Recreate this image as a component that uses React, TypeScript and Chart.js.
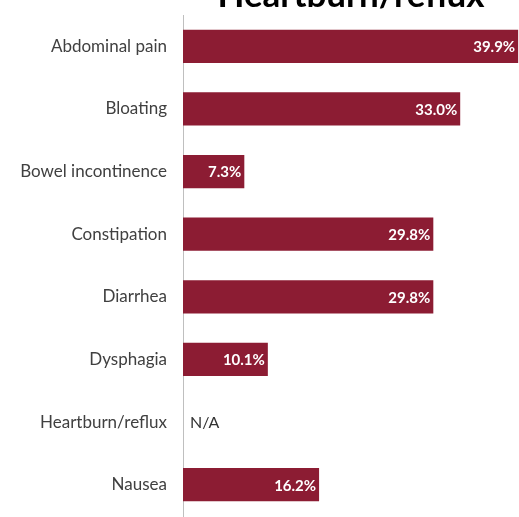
import React, { useEffect, useRef } from "react";
import { Chart, registerables } from "chart.js";

Chart.register(...registerables);

const categories = [
  "Abdominal pain",
  "Bloating",
  "Bowel incontinence",
  "Constipation",
  "Diarrhea",
  "Dysphagia",
  "Heartburn/reflux",
  "Nausea",
];
const values: (number | null)[] = [39.9, 33.0, 7.3, 29.8, 29.8, 10.1, null, 16.2];
const valueLabels = ["39.9%", "33.0%", "7.3%", "29.8%", "29.8%", "10.1%", "N/A", "16.2%"];
const titleText = "Heartburn/reflux";

const FONT = "Lato, 'Open Sans', sans-serif";
const BAR_COLOR = "#8C1C33";
const SHIFT = 25;
const BOTTOM_PAD = 40;
const CANVAS_H = 517 + SHIFT - 1 + BOTTOM_PAD;

const labelPlugin = {
  id: "barLabels",
  afterDatasetsDraw(chart: any) {
    const ctx = chart.ctx;
    const meta = chart.getDatasetMeta(0);
    const xScale = chart.scales.x;
    ctx.save();
    ctx.textBaseline = "middle";
    meta.data.forEach((el: any, i: number) => {
      const v = values[i];
      if (v === null) {
        ctx.fillStyle = "#333333";
        ctx.font = `16px ${FONT}`;
        ctx.textAlign = "left";
        ctx.fillText(valueLabels[i], xScale.getPixelForValue(0) + 7, el.y + 1);
      } else {
        ctx.fillStyle = "#FFFFFF";
        ctx.font = `bold 15px ${FONT}`;
        ctx.textAlign = "right";
        ctx.fillText(valueLabels[i], el.x - 3, el.y + 1);
      }
    });
    ctx.restore();
  },
};

export default function App() {
  const ref = useRef<HTMLCanvasElement | null>(null);

  useEffect(() => {
    if (!ref.current) return;
    const chart = new Chart(ref.current, {
      type: "bar",
      data: {
        labels: categories,
        datasets: [
          {
            data: values as any,
            backgroundColor: BAR_COLOR,
            borderWidth: 0,
            barPercentage: 0.53,
            categoryPercentage: 1.0,
          },
        ],
      },
      options: {
        indexAxis: "y",
        responsive: false,
        animation: false,
        devicePixelRatio: 1,
        layout: { padding: { top: 0, bottom: BOTTOM_PAD, left: 0, right: 0 } },
        plugins: {
          legend: { display: false },
          tooltip: { enabled: false },
          title: {
            display: true,
            text: titleText,
            fullSize: false,
            color: "#000000",
            font: { family: FONT, size: 35, weight: "bold" },
            padding: { top: 0, bottom: -2 },
          },
        },
        scales: {
          x: {
            display: false,
            min: 0,
            max: 40,
          },
          y: {
            afterFit: (scale: any) => {
              scale.width = 183;
            },
            grid: { display: false, drawTicks: false },
            border: { display: true, color: "#BFBFBF", width: 1 },
            ticks: {
              padding: 16,
              color: "#404040",
              font: { family: FONT, size: 17 },
            },
          },
        },
      },
      plugins: [labelPlugin],
    });
    return () => chart.destroy();
  }, []);

  return (
    <div
      style={{
        position: "fixed",
        top: 0,
        left: 0,
        width: 519,
        height: 517,
        overflow: "hidden",
        background: "#FFFFFF",
      }}
    >
      <canvas
        ref={ref}
        width={519}
        height={CANVAS_H}
        style={{ position: "absolute", top: -SHIFT, left: 0, width: 519, height: CANVAS_H }}
      />
    </div>
  );
}
